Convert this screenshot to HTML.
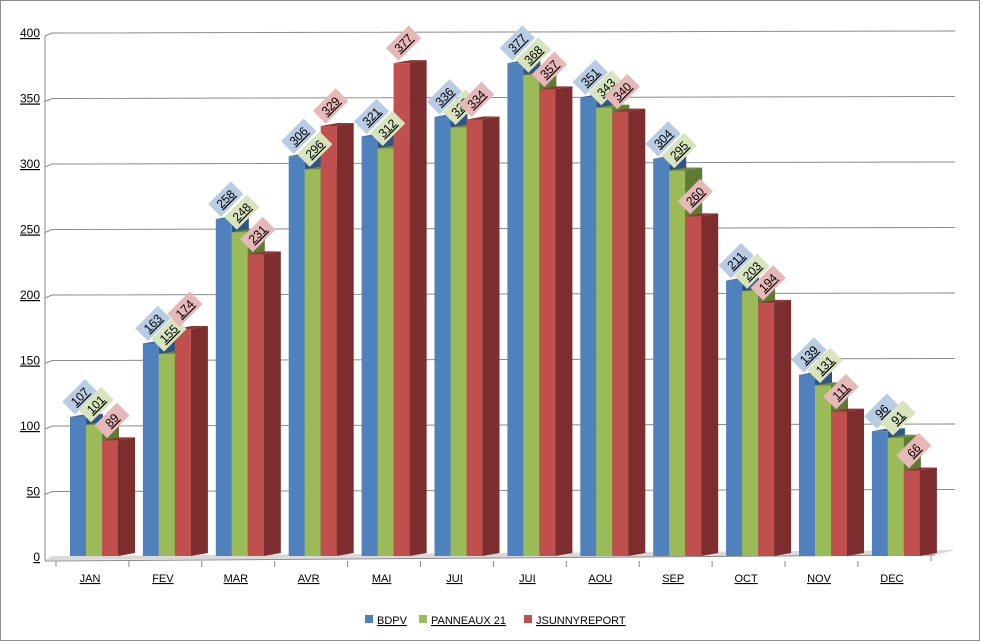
<!DOCTYPE html>
<html><head><meta charset="utf-8"><style>
html,body{margin:0;padding:0;background:#fff;}
svg{display:block;font-family:"Liberation Sans",sans-serif;}
</style></head><body>
<svg id="c" width="982" height="643" viewBox="0 0 982 643" xmlns="http://www.w3.org/2000/svg">
<rect x="0.5" y="0.5" width="979" height="640" fill="#fff" stroke="#8c8c8c"/>
<g id="g"></g>
<g font-size="11" text-decoration="underline" fill="#000">
<rect x="365" y="615" width="8" height="8" fill="#4f81bd"/><text x="377" y="624">BDPV</text>
<rect x="419" y="615" width="8" height="8" fill="#9bbb59"/><text x="431" y="624">PANNEAUX 21</text>
<rect x="524" y="615" width="8" height="8" fill="#c0504d"/><text x="536" y="624">JSUNNYREPORT</text>
</g>
</svg>
<script>
var B=[107,163,258,306,321,336,377,351,304,211,139,96];
var P=[101,155,248,296,312,328,368,343,295,203,131,91];
var J=[89,174,231,329,377,334,357,340,260,194,111,66];
var M=["JAN","FEV","MAR","AVR","MAI","JUI","JUI","AOU","SEP","OCT","NOV","DEC"];
function Y(v){return 557-v*1.31;}
var s="";
s+='<polygon points="45,560 52,556 955,550 935,555" fill="#d9d9d9"/>';
for(var k=0;k<=8;k++){var v=k*50,y=Y(v);
 if(k>0)s+='<polyline points="45,'+(y+3)+' 52,'+y+' 955,'+(y-2)+'" fill="none" stroke="#8a8a8a" stroke-width="1"/>';
 s+='<text x="40" y="'+(y+4)+'" font-size="12" text-anchor="end" text-decoration="underline">'+v+'</text>';}
s+='<line x1="45" y1="36" x2="45" y2="561" stroke="#8a8a8a"/>';
s+='<line x1="45" y1="561" x2="935" y2="555" stroke="#8a8a8a"/>';
var cols=[["#4f81bd","#3a659b","#2f5487","#b8cce4"],["#9bbb59","#6f8a3a","#5f7b33","#d7e4bd"],["#c0504d","#8e3331","#7d2d2d","#e6b9b8"]];
var labels="";
for(var i=0;i<12;i++){var x=70+i*72.9;
 s+='<line x1="'+(x-14)+'" y1="561" x2="'+(x-14)+'" y2="567" stroke="#8a8a8a"/>';
 [B,P,J].forEach(function(arr,j){var x0=x+j*16,t=Y(arr[i]),b=556,c=cols[j];
  s+='<polygon points="'+(x0+16)+','+t+' '+(x0+33)+','+(t-3)+' '+(x0+33)+','+(b-3)+' '+(x0+16)+','+b+'" fill="'+c[2]+'"/>';
  s+='<polygon points="'+x0+','+t+' '+(x0+16)+','+t+' '+(x0+33)+','+(t-3)+' '+(x0+17)+','+(t-3)+'" fill="'+c[1]+'"/>';
  s+='<rect x="'+x0+'" y="'+t+'" width="16" height="'+(b-t)+'" fill="'+c[0]+'"/>';
  var cx=x0+10,cy=t-20;
  labels+='<g transform="translate('+cx+','+cy+') rotate(-45)"><rect x="-16" y="-9" width="32" height="18" fill="'+c[3]+'"/><text x="0" y="4" font-size="12" text-anchor="middle" text-decoration="underline">'+arr[i]+'</text></g>';
 });
 s+='<text x="'+(x+20)+'" y="582" font-size="11" text-anchor="middle" text-decoration="underline">'+M[i]+'</text>';
}
s+='<line x1="931" y1="555" x2="931" y2="561" stroke="#8a8a8a"/>';
document.getElementById("g").innerHTML=s+labels;
</script>
</body></html>
